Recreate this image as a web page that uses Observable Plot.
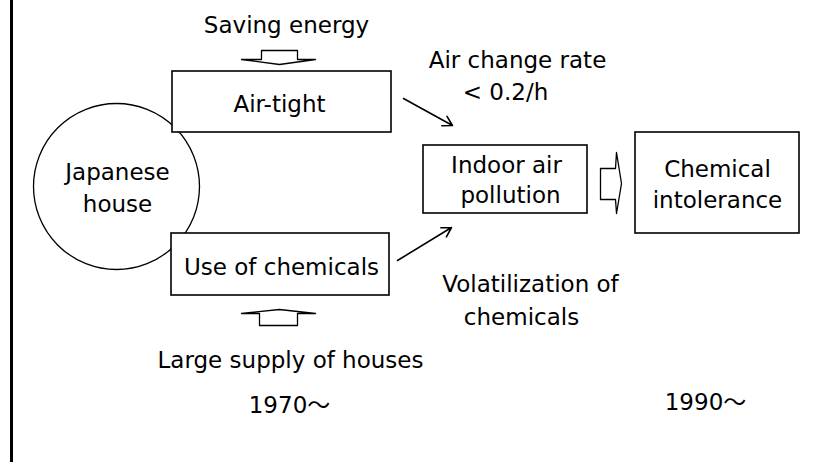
<!DOCTYPE html>
<html>
<head>
<meta charset="utf-8">
<script src="https://cdn.jsdelivr.net/npm/d3@7"></script>
<script src="https://cdn.jsdelivr.net/npm/@observablehq/plot@0.6"></script>
<style>
  html, body { margin: 0; padding: 0; background: #fff; }
  svg { display: block; }
</style>
</head>
<body>
<div id="chart"></div>
<script>
// Diagram nodes (diagram coordinates in the 815 x 462 frame)
const houseNode = [{name: "Japanese house", x: 116, y: 186, r: 83}];

const boxes = [
  {name: "Air-tight", x1: 172, x2: 391, y1: 71, y2: 132},
  {name: "Use of chemicals", x1: 171, x2: 389, y1: 233, y2: 295},
  {name: "Indoor air pollution", x1: 423, x2: 587, y1: 145, y2: 213},
  {name: "Chemical intolerance", x1: 635, x2: 799, y1: 132, y2: 233}
];

const labels = [
  {text: "Saving energy", x: 286, y: 25},
  {text: "Air-tight", x: 279, y: 104},
  {text: "Japanese", x: 117, y: 172},
  {text: "house", x: 117, y: 204},
  {text: "Use of chemicals", x: 281, y: 267},
  {text: "Large supply of houses", x: 290, y: 360},
  {text: "1970〜", x: 289, y: 405},
  {text: "Air change rate", x: 517, y: 60},
  {text: "< 0.2/h", x: 505, y: 92},
  {text: "Indoor air", x: 506, y: 165},
  {text: "pollution", x: 510, y: 195},
  {text: "Chemical", x: 717, y: 169},
  {text: "intolerance", x: 717, y: 200},
  {text: "Volatilization of", x: 530, y: 284},
  {text: "chemicals", x: 521, y: 317},
  {text: "1990〜", x: 705, y: 402}
];

const arrows = [
  {from: "Air-tight", x1: 403, y1: 98, x2: 452, y2: 125},
  {from: "Use of chemicals", x1: 397, y1: 260, x2: 451, y2: 227}
];

// Outline block arrows (hollow), listed as closed polygons
const blockArrows = [
  {id: "down", x: 261, y: 50}, {id: "down", x: 297, y: 50}, {id: "down", x: 297, y: 59},
  {id: "down", x: 315, y: 59}, {id: "down", x: 279, y: 64}, {id: "down", x: 241, y: 59},
  {id: "down", x: 261, y: 59}, {id: "down", x: 261, y: 50},
  {id: "up", x: 259, y: 325}, {id: "up", x: 297, y: 325}, {id: "up", x: 297, y: 313},
  {id: "up", x: 315, y: 313}, {id: "up", x: 279, y: 309}, {id: "up", x: 241, y: 313},
  {id: "up", x: 259, y: 313}, {id: "up", x: 259, y: 325},
  {id: "right", x: 600, y: 168}, {id: "right", x: 615, y: 168}, {id: "right", x: 616, y: 152},
  {id: "right", x: 621, y: 183}, {id: "right", x: 616, y: 213}, {id: "right", x: 615, y: 199},
  {id: "right", x: 600, y: 199}, {id: "right", x: 600, y: 168}
];

const borderX = [11];

const chart = Plot.plot({
  width: 815,
  height: 462,
  margin: 0,
  x: {domain: [0, 815], range: [0, 815], axis: null},
  y: {domain: [0, 462], range: [0, 462], axis: null},
  r: {type: "identity"},
  style: {fontFamily: "'DejaVu Sans', 'Noto Sans CJK JP', sans-serif", background: "#fff", color: "#000"},
  marks: [
    Plot.ruleX(borderX, {stroke: "#000", strokeWidth: 3}),
    Plot.dot(houseNode, {x: "x", y: "y", r: "r", stroke: "#000", strokeWidth: 1.3, fill: "none"}),
    Plot.rect(boxes, {x1: "x1", x2: "x2", y1: "y1", y2: "y2", fill: "#fff", stroke: "#000", strokeWidth: 1.6}),
    Plot.line(blockArrows, {x: "x", y: "y", z: "id", stroke: "#000", strokeWidth: 1.3, fill: "none"}),
    Plot.arrow(arrows, {x1: "x1", y1: "y1", x2: "x2", y2: "y2", stroke: "#000", strokeWidth: 1.6, headLength: 10}),
    Plot.text(labels, {x: "x", y: "y", text: "text", fontSize: 23, fill: "#000", textAnchor: "middle", lineAnchor: "middle"})
  ]
});

document.getElementById("chart").appendChild(chart);
</script>
</body>
</html>
